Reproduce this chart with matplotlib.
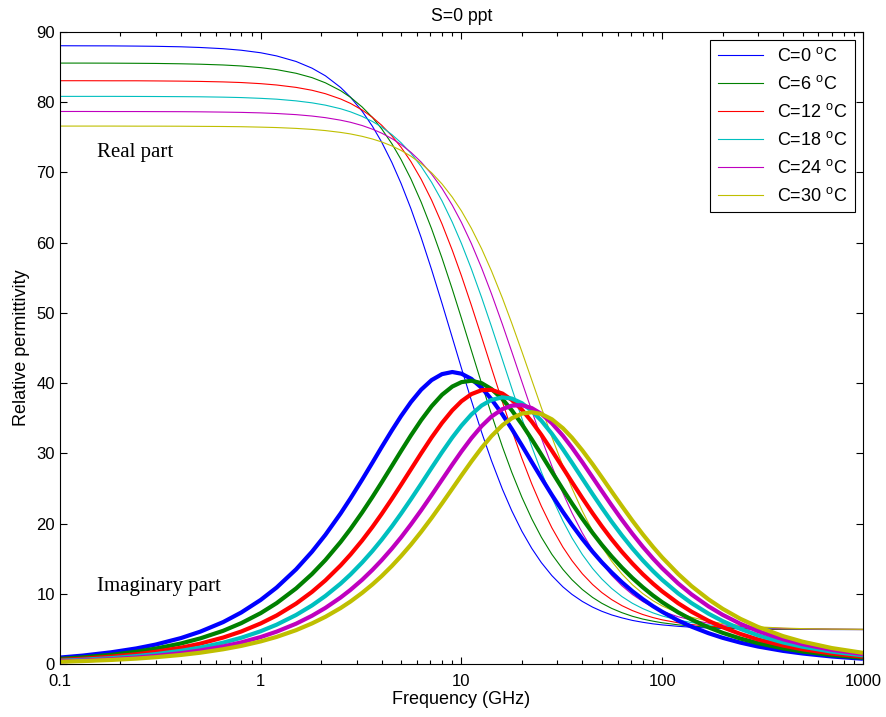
import matplotlib
matplotlib.use('Agg')
import matplotlib.pyplot as plt
from matplotlib.ticker import LogLocator, FixedLocator, NullFormatter

plt.rcParams['font.family'] = ['Liberation Sans', 'DejaVu Sans']
plt.rcParams['mathtext.fontset'] = 'custom'
plt.rcParams['mathtext.rm'] = 'Liberation Sans'

# frequency samples (GHz) read along the x axis
freq = [0.1, 0.13, 0.18, 0.24, 0.3, 0.4, 0.5, 0.65, 0.8, 1.0, 1.2, 1.5, 1.8, 2.1, 2.5, 2.8, 3.2, 3.6, 4, 4.5,
        5, 5.6, 6.3, 7.1, 8, 9, 10, 11.2, 12.6, 14.1, 16, 17.8, 20, 22.4, 25, 28.2, 32, 35.5, 40, 45,
        50, 56, 63, 71, 80, 90, 100, 120, 140, 170, 200, 245, 300, 400, 500, 700, 1000]

temps = [0, 6, 12, 18, 24, 30]

# real part (thin lines)
real_0 = [88.04, 88.03, 88.02, 87.99, 87.96, 87.89, 87.79, 87.62, 87.40, 87.04, 86.59, 85.80, 84.85, 83.76, 82.10,
          80.71, 78.72, 76.58, 74.34, 71.42, 68.44, 64.84, 60.71, 56.15, 51.35, 46.48, 42.11, 37.53, 33.00, 28.97,
          24.88, 21.83, 18.90, 16.46, 14.44, 12.59, 10.99, 9.92, 8.91, 8.10, 7.51, 6.99, 6.57, 6.21, 5.94, 5.72,
          5.57, 5.37, 5.24, 5.13, 5.07, 5.01, 4.97, 4.94, 4.93, 4.91, 4.91]
real_6 = [85.57, 85.57, 85.56, 85.54, 85.52, 85.47, 85.41, 85.30, 85.16, 84.92, 84.64, 84.12, 83.50, 82.76, 81.64,
          80.70, 79.32, 77.83, 76.22, 74.09, 71.84, 69.07, 65.76, 61.97, 57.80, 53.37, 49.22, 44.66, 39.94, 35.56,
          30.92, 27.31, 23.74, 20.67, 18.06, 15.62, 13.48, 12.01, 10.61, 9.48, 8.65, 7.92, 7.31, 6.80, 6.40, 6.10,
          5.87, 5.58, 5.40, 5.24, 5.14, 5.06, 5.01, 4.96, 4.94, 4.92, 4.91]
real_12 = [83.06, 83.06, 83.05, 83.05, 83.03, 83.00, 82.96, 82.89, 82.80, 82.64, 82.45, 82.11, 81.70, 81.21, 80.46,
           79.83, 78.89, 77.85, 76.73, 75.21, 73.59, 71.54, 69.02, 66.05, 62.66, 58.92, 55.27, 51.09, 46.56, 42.17,
           37.30, 33.34, 29.27, 25.64, 22.47, 19.40, 16.65, 14.73, 12.85, 11.32, 10.18, 9.17, 8.31, 7.61, 7.05, 6.61,
           6.29, 5.87, 5.62, 5.39, 5.25, 5.14, 5.06, 4.99, 4.96, 4.93, 4.91]
real_18 = [80.83, 80.83, 80.83, 80.82, 80.81, 80.79, 80.77, 80.72, 80.66, 80.55, 80.43, 80.19, 79.91, 79.58, 79.07,
           78.63, 77.98, 77.26, 76.47, 75.39, 74.23, 72.73, 70.85, 68.59, 65.94, 62.91, 59.87, 56.26, 52.19, 48.08,
           43.32, 39.28, 34.96, 30.96, 27.34, 23.73, 20.38, 17.97, 15.59, 13.60, 12.11, 10.76, 9.60, 8.65, 7.89, 7.28,
           6.84, 6.26, 5.90, 5.58, 5.39, 5.23, 5.12, 5.02, 4.98, 4.94, 4.92]
real_24 = [78.68, 78.68, 78.67, 78.67, 78.66, 78.65, 78.63, 78.59, 78.55, 78.48, 78.39, 78.23, 78.03, 77.80, 77.44,
           77.14, 76.68, 76.16, 75.60, 74.82, 73.97, 72.87, 71.47, 69.76, 67.72, 65.33, 62.87, 59.88, 56.39, 52.74,
           48.35, 44.48, 40.19, 36.05, 32.18, 28.19, 24.36, 21.53, 18.66, 16.21, 14.34, 12.62, 11.14, 9.90, 8.90, 8.10,
           7.51, 6.73, 6.26, 5.82, 5.57, 5.35, 5.20, 5.07, 5.01, 4.96, 4.93]
real_30 = [76.60, 76.60, 76.60, 76.59, 76.59, 76.58, 76.56, 76.54, 76.51, 76.45, 76.39, 76.27, 76.13, 75.96, 75.70,
           75.48, 75.14, 74.76, 74.35, 73.77, 73.14, 72.31, 71.26, 69.95, 68.36, 66.48, 64.51, 62.05, 59.13, 55.99,
           52.09, 48.54, 44.48, 40.43, 36.51, 32.33, 28.20, 25.06, 21.78, 18.93, 16.71, 14.64, 12.82, 11.29, 10.03, 9.01,
           8.27, 7.27, 6.66, 6.10, 5.77, 5.48, 5.29, 5.12, 5.04, 4.97, 4.94]

# imaginary part (thick lines)
imag_0 = [0.92, 1.20, 1.67, 2.22, 2.77, 3.69, 4.61, 5.97, 7.34, 9.13, 10.89, 13.48, 15.99, 18.40, 21.44,
          23.59, 26.25, 28.67, 30.87, 33.26, 35.30, 37.30, 39.07, 40.43, 41.28, 41.58, 41.34, 40.60, 39.33, 37.71,
          35.53, 33.48, 31.12, 28.76, 26.50, 24.08, 21.67, 19.81, 17.81, 15.99, 14.49, 13.03, 11.64, 10.37, 9.23, 8.23,
          7.43, 6.20, 5.32, 4.39, 3.73, 3.05, 2.49, 1.87, 1.50, 1.07, 0.75]
imag_6 = [0.73, 0.95, 1.31, 1.75, 2.20, 2.92, 3.65, 4.73, 5.82, 7.25, 8.67, 10.76, 12.81, 14.81, 17.38,
          19.23, 21.58, 23.78, 25.84, 28.20, 30.32, 32.55, 34.73, 36.71, 38.34, 39.51, 40.14, 40.34, 39.99, 39.16,
          37.72, 36.14, 34.14, 31.99, 29.82, 27.39, 24.87, 22.88, 20.69, 18.67, 16.98, 15.31, 13.72, 12.25, 10.93, 9.75,
          8.80, 7.36, 6.33, 5.22, 4.44, 3.63, 2.97, 2.23, 1.78, 1.27, 0.89]
imag_12 = [0.58, 0.75, 1.05, 1.39, 1.74, 2.32, 2.90, 3.77, 4.63, 5.78, 6.91, 8.60, 10.27, 11.91, 14.04,
           15.59, 17.59, 19.51, 21.35, 23.51, 25.52, 27.72, 30.01, 32.26, 34.33, 36.12, 37.42, 38.43, 39.00, 39.04,
           38.51, 37.61, 36.21, 34.51, 32.63, 30.39, 27.94, 25.91, 23.63, 21.46, 19.62, 17.76, 15.97, 14.31, 12.79, 11.44,
           10.34, 8.66, 7.45, 6.15, 5.24, 4.28, 3.50, 2.63, 2.10, 1.50, 1.05]
imag_18 = [0.47, 0.61, 0.84, 1.13, 1.41, 1.88, 2.34, 3.04, 3.74, 4.67, 5.60, 6.98, 8.34, 9.69, 11.45,
           12.75, 14.45, 16.09, 17.68, 19.59, 21.41, 23.46, 25.66, 27.93, 30.16, 32.25, 33.95, 35.53, 36.81, 37.61,
           37.97, 37.80, 37.14, 36.05, 34.65, 32.79, 30.59, 28.67, 26.41, 24.19, 22.26, 20.26, 18.31, 16.46, 14.76, 13.23,
           11.98, 10.06, 8.67, 7.17, 6.11, 5.00, 4.09, 3.07, 2.46, 1.76, 1.23]
imag_24 = [0.39, 0.50, 0.69, 0.92, 1.16, 1.54, 1.93, 2.50, 3.08, 3.84, 4.61, 5.74, 6.87, 7.99, 9.47,
           10.56, 11.99, 13.40, 14.77, 16.43, 18.03, 19.88, 21.90, 24.05, 26.24, 28.40, 30.27, 32.15, 33.88, 35.23,
           36.30, 36.79, 36.86, 36.44, 35.62, 34.29, 32.51, 30.83, 28.74, 26.58, 24.64, 22.59, 20.53, 18.55, 16.70, 15.02,
           13.63, 11.48, 9.91, 8.21, 7.00, 5.73, 4.69, 3.52, 2.82, 2.02, 1.41]
imag_30 = [0.32, 0.42, 0.58, 0.77, 0.97, 1.29, 1.61, 2.10, 2.58, 3.22, 3.86, 4.82, 5.78, 6.72, 7.97,
           8.90, 10.13, 11.33, 12.51, 13.96, 15.37, 17.00, 18.83, 20.80, 22.87, 24.96, 26.85, 28.83, 30.78, 32.45,
           34.01, 34.99, 35.66, 35.85, 35.60, 34.85, 33.58, 32.23, 30.42, 28.45, 26.59, 24.56, 22.48, 20.42, 18.47, 16.67,
           15.17, 12.83, 11.09, 9.21, 7.86, 6.44, 5.28, 3.97, 3.18, 2.27, 1.59]

real_parts = [real_0, real_6, real_12, real_18, real_24, real_30]
imag_parts = [imag_0, imag_6, imag_12, imag_18, imag_24, imag_30]

# old MATLAB line colour order
colors = [(0, 0, 1), (0, 0.5, 0), (1, 0, 0), (0, 0.75, 0.75), (0.75, 0, 0.75), (0.75, 0.75, 0)]

fig = plt.figure(figsize=(8.86, 7.17), dpi=100)
ax = fig.add_axes([0.0677, 0.0739, 0.9063, 0.8815])

for t, re, c in zip(temps, real_parts, colors):
    ax.plot(freq, re, color=c, lw=0.8, label='C=%d $^{\\mathrm{o}}$C' % t)
for im, c in zip(imag_parts, colors):
    ax.plot(freq, im, color=c, lw=3.0, solid_capstyle='butt')

ax.set_xscale('log')
ax.set_xlim(0.1, 1000)
ax.set_ylim(0, 90)
ax.set_xticks([0.1, 1, 10, 100, 1000])
ax.set_xticklabels(['0.1', '1', '10', '100', '1000'])
ax.xaxis.set_minor_locator(LogLocator(base=10, subs=range(2, 10)))
ax.xaxis.set_minor_formatter(NullFormatter())
ax.yaxis.set_major_locator(FixedLocator(range(0, 91, 10)))
ax.tick_params(which='both', direction='in', top=True, right=True, labelsize=12, width=0.8)
ax.tick_params(which='major', length=5)
ax.tick_params(which='minor', length=3)
ax.tick_params(axis='x', which='major', pad=7.5)
for s in ax.spines.values():
    s.set_linewidth(0.8)

ax.set_xlabel('Frequency (GHz)', fontsize=13, labelpad=1)
ax.set_ylabel('Relative permittivity', fontsize=13, labelpad=5)
ax.set_title('S=0 ppt', fontsize=12.7, pad=8)

ax.text(0.153, 72.9, 'Real part', family='Liberation Serif', fontsize=15, va='center')
ax.text(0.153, 11.0, 'Imaginary part', family='Liberation Serif', fontsize=15, va='center')

leg = ax.legend(loc='upper right', fontsize=13, fancybox=False, framealpha=1,
                edgecolor='black', handlelength=2.5, labelspacing=0.55, borderaxespad=0.45)
leg.get_frame().set_linewidth(0.8)

fig.savefig('out.png', dpi=100)
